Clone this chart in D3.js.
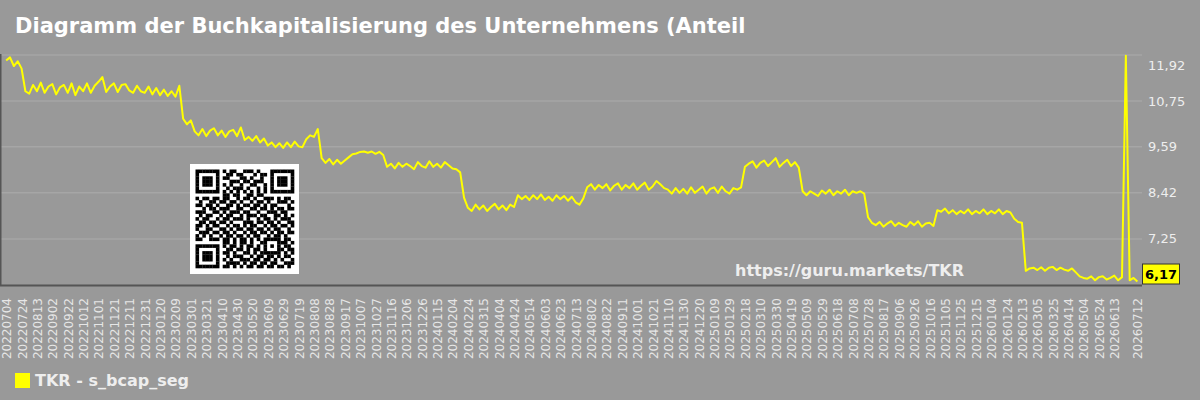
<!DOCTYPE html>
<html>
<head>
<meta charset="utf-8">
<script src="https://cdn.jsdelivr.net/npm/d3@7"></script>
<style>
  html, body { margin: 0; padding: 0; background: #999; }
  svg { display: block; font-family: "DejaVu Sans", sans-serif; }
</style>
</head>
<body>
<div id="chart"></div>
<script>
(function() {
    const width = 1200;
    const height = 400;
    const plot = { left: 0, right: 1142, top: 55, bottom: 285 };

    const title = "Diagramm der Buchkapitalisierung des Unternehmens (Anteil";
    const seriesName = "TKR - s_bcap_seg";
    const watermark = "https://guru.markets/TKR";

    // one value every 5 days, starting 2022-07-03
    const startDate = "2022-07-03";
    const stepDays = 5;
    const values = [
        11.78, 11.86, 11.64, 11.76, 11.58, 11.00,
        10.94, 11.16, 11.00, 11.22, 10.96, 11.12, 11.18, 10.92, 11.10, 11.16,
        10.96, 11.20, 10.90, 11.12, 11.00, 11.20, 10.96, 11.14, 11.24, 11.36,
        10.98, 11.12, 11.20, 10.98, 11.16, 11.18, 11.02, 10.96, 11.14, 11.00,
        10.96, 11.12, 10.92, 11.08, 10.90, 11.04, 10.88, 11.00, 10.86, 11.14,
        10.30, 10.16, 10.26, 9.98,
        9.88, 10.04, 9.86, 10.00, 10.06, 9.88, 10.00, 9.84, 9.98, 10.02, 9.86, 10.08,
        9.76, 9.84, 9.74, 9.86, 9.70, 9.80,
        9.62, 9.70, 9.58, 9.68, 9.56, 9.70, 9.58, 9.72, 9.60, 9.58,
        9.78, 9.88, 9.84, 10.04,
        9.30, 9.18, 9.28, 9.14, 9.26, 9.16, 9.24, 9.32, 9.40,
        9.42, 9.46, 9.47, 9.44, 9.47, 9.41, 9.46, 9.38, 9.08,
        9.16, 9.04, 9.18, 9.08, 9.16, 9.10, 9.02, 9.20, 9.10, 9.06, 9.22, 9.08, 9.16, 9.06, 9.20, 9.12, 9.04,
        9.02, 8.94, 8.30,
        8.04, 7.96, 8.12, 8.00, 8.10, 7.96, 8.06, 8.14, 8.00, 8.10, 7.98, 8.12, 8.06,
        8.36, 8.26, 8.34, 8.24, 8.36, 8.26, 8.38, 8.24, 8.32, 8.22, 8.36, 8.26, 8.34, 8.22, 8.32, 8.18, 8.12, 8.28,
        8.56, 8.64, 8.50, 8.62, 8.54, 8.64, 8.48, 8.60, 8.66, 8.50, 8.62, 8.54, 8.66, 8.50, 8.60, 8.68, 8.50, 8.58,
        8.72, 8.64, 8.54,
        8.50, 8.40, 8.54, 8.42, 8.52, 8.40, 8.56, 8.42, 8.50, 8.58, 8.40, 8.52, 8.56, 8.42, 8.58, 8.46, 8.40, 8.54, 8.50,
        8.56,
        9.08, 9.16, 9.22, 9.06, 9.18, 9.24, 9.10, 9.20, 9.30, 9.08, 9.18, 9.26, 9.10, 9.20, 9.06,
        8.46, 8.36, 8.46, 8.40, 8.34, 8.48, 8.40, 8.50, 8.36, 8.46, 8.40, 8.50, 8.36, 8.46, 8.42, 8.46, 8.40,
        7.80, 7.66,
        7.60, 7.68, 7.56, 7.64, 7.70, 7.58, 7.66, 7.60, 7.56, 7.68, 7.60, 7.70, 7.56, 7.64, 7.66, 7.58,
        7.98,
        7.94, 8.02, 7.90, 7.98, 7.88, 7.96, 7.90, 8.00, 7.88, 7.96, 7.90, 8.00, 7.88, 7.96, 7.90, 8.00, 7.88, 7.96, 7.92,
        7.76, 7.68, 7.66,
        6.44, 6.50, 6.52, 6.46, 6.53, 6.44, 6.52, 6.54, 6.46, 6.52, 6.47, 6.44, 6.50,
        6.40, 6.30, 6.26,
        6.24, 6.30, 6.20, 6.28, 6.30, 6.22, 6.26, 6.32, 6.20, 6.28,
        11.90,
        6.20, 6.26, 6.17
    ];

    const yTicks = [11.92, 10.75, 9.59, 8.42, 7.25];
    const yTickLabels = ["11,92", "10,75", "9,59", "8,42", "7,25"];
    const lastLabel = "6,17";

    const xTickLabels = [
        "20220704", "20220724", "20220813", "20220902", "20220922", "20221012", "20221101", "20221121",
        "20221211", "20221231", "20230120", "20230209", "20230301", "20230321", "20230410", "20230430",
        "20230520", "20230609", "20230629", "20230719", "20230808", "20230828", "20230917", "20231007",
        "20231027", "20231116", "20231206", "20231226", "20240115", "20240204", "20240224", "20240315",
        "20240404", "20240424", "20240514", "20240603", "20240623", "20240713", "20240802", "20240822",
        "20240911", "20241001", "20241021", "20241110", "20241130", "20241220", "20250109", "20250129",
        "20250218", "20250310", "20250330", "20250419", "20250509", "20250529", "20250618", "20250708",
        "20250728", "20250817", "20250906", "20250926", "20251016", "20251105", "20251125", "20251215",
        "20260104", "20260124", "20260213", "20260305", "20260325", "20260414", "20260504", "20260524",
        "20260613", "20260712"
    ];

    // QR code modules (29 x 29)
    const qrRows = [
        "11111110101100111010001111111",
        "10000010011011000101101000001",
        "10111010110001101001001011101",
        "10111010001110110111001011101",
        "10111010101001001100101011101",
        "10000010010111010010101000001",
        "11111110101010101010101111111",
        "00000000110110011011000000000",
        "10110110110010110100111010110",
        "01001101101101001011010011101",
        "11011010011010110110101100010",
        "00101101110011001101101011011",
        "11100110101110110010011101100",
        "01011001011001011101100110101",
        "10110010110111010010110101110",
        "01101101101000111011011010011",
        "11010110010110101100101101101",
        "10011001101011011011010110010",
        "01110110110100101101101011011",
        "10101001011011010110010110100",
        "11001110110101101010111110110",
        "00000000110101101001100011101",
        "11111110101101011010101010110",
        "10000010011011010110100011011",
        "10111010110100110101111110101",
        "10111010010111001011011010110",
        "10111010101001110110110101001",
        "10000010011110101101101100111",
        "11111110110101011011011011010"
    ];

    const parse = d3.utcParse("%Y%m%d");
    const start = d3.utcParse("%Y-%m-%d")(startDate);
    const data = values.map((v, i) => ({ date: d3.utcDay.offset(start, i * stepDays), val: v }));

    const svg = d3.select("#chart").append("svg")
        .attr("width", width).attr("height", height);

    svg.append("rect").attr("width", width).attr("height", height).attr("fill", "#999");

    const x = d3.scaleUtc()
        .domain([d3.utcDay.offset(parse("20220704"), -9), d3.utcDay.offset(parse("20260712"), 6)])
        .range([plot.left, plot.right]);
    const y = d3.scaleLinear()
        .domain([6.08, 11.92])
        .range([plot.bottom, plot.top]);

    // grid
    svg.append("g").selectAll("line")
        .data(yTicks)
        .join("line")
        .attr("x1", plot.left).attr("x2", plot.right)
        .attr("y1", d => y(d)).attr("y2", d => y(d))
        .attr("stroke", "#a6a6a6").attr("stroke-width", 1.5);

    // y labels on the right
    svg.append("g").selectAll("text")
        .data(yTicks)
        .join("text")
        .attr("x", plot.right + 6)
        .attr("y", (d, i) => y(d) + (i === 0 ? 10 : 0))
        .attr("dy", "0.35em")
        .attr("fill", "#eee")
        .attr("font-size", 13)
        .text((d, i) => yTickLabels[i]);

    // QR code
    const qrX = 195.5, qrY = 169.5, cell = 3.4;
    svg.append("rect")
        .attr("x", 190).attr("y", 164).attr("width", 109).attr("height", 110)
        .attr("fill", "#fff");
    const qrCells = [];
    qrRows.forEach((row, r) => row.split("").forEach((c, k) => { if (c === "1") qrCells.push([r, k]); }));
    svg.append("g").selectAll("rect")
        .data(qrCells)
        .join("rect")
        .attr("x", d => qrX + d[1] * cell)
        .attr("y", d => qrY + d[0] * cell)
        .attr("width", cell + 0.2).attr("height", cell + 0.2)
        .attr("fill", "#000");

    // watermark
    svg.append("text")
        .attr("x", 735).attr("y", 276)
        .attr("fill", "#eee").attr("font-size", 16).attr("font-weight", "bold")
        .text(watermark);

    // axes lines
    svg.append("line")
        .attr("x1", plot.left + 0.5).attr("x2", plot.left + 0.5)
        .attr("y1", plot.top - 1).attr("y2", plot.bottom)
        .attr("stroke", "#555").attr("stroke-width", 2);
    svg.append("line")
        .attr("x1", plot.left).attr("x2", plot.right)
        .attr("y1", plot.bottom + 0.5).attr("y2", plot.bottom + 0.5)
        .attr("stroke", "#555").attr("stroke-width", 2);

    // series line
    const line = d3.line().x(d => x(d.date)).y(d => y(d.val));
    svg.append("path")
        .datum(data)
        .attr("fill", "none")
        .attr("stroke", "#ffff00")
        .attr("stroke-width", 2)
        .attr("stroke-linejoin", "round")
        .attr("d", line);

    // last value badge
    const last = data[data.length - 1];
    const badgeY = Math.min(y(last.val) - 10.5, plot.bottom - 21);
    svg.append("rect")
        .attr("x", plot.right + 0.5).attr("y", badgeY)
        .attr("width", 37).attr("height", 20)
        .attr("fill", "#ffff00").attr("stroke", "#333").attr("stroke-width", 1);
    svg.append("text")
        .attr("x", plot.right + 19).attr("y", badgeY + 10)
        .attr("dy", "0.35em").attr("text-anchor", "middle")
        .attr("font-size", 13).attr("font-weight", "bold").attr("fill", "#000")
        .text(lastLabel);

    // x labels
    svg.append("g").selectAll("text")
        .data(xTickLabels)
        .join("text")
        .attr("transform", d => `translate(${x(parse(d))},${plot.bottom + 13}) rotate(-90)`)
        .attr("text-anchor", "end")
        .attr("dy", "0.35em")
        .attr("fill", "#e6e6e6")
        .attr("font-size", 12)
        .text(d => d);

    // title
    svg.append("text")
        .attr("x", 15).attr("y", 33)
        .attr("fill", "#fff").attr("font-size", 21).attr("font-weight", "bold")
        .text(title);

    // legend
    svg.append("rect")
        .attr("x", 15).attr("y", 373).attr("width", 15).attr("height", 15)
        .attr("fill", "#ffff00");
    svg.append("text")
        .attr("x", 35).attr("y", 386)
        .attr("fill", "#eee").attr("font-size", 16).attr("font-weight", "bold")
        .text(seriesName);
})();
</script>
</body>
</html>
